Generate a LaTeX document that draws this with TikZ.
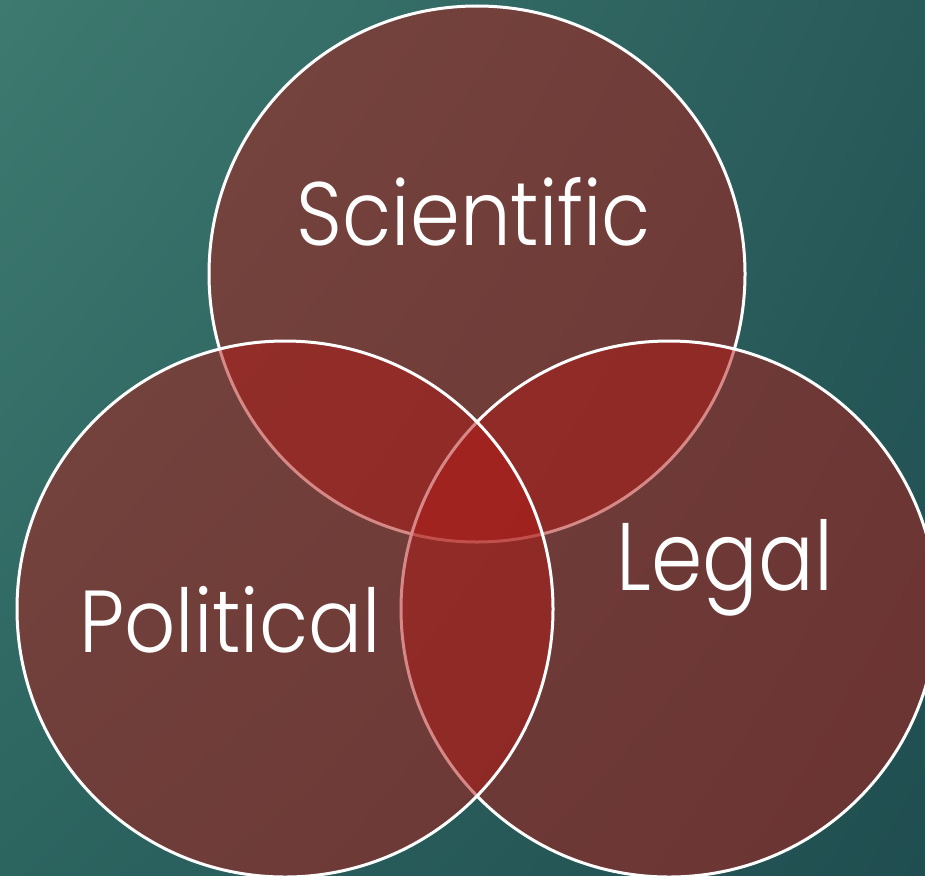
\documentclass[tikz,border=0pt]{standalone}
\usepackage{fontspec}
\setmainfont{Poppins Light}
\usetikzlibrary{shadings}
\definecolor{bgUL}{RGB}{62,122,112}
\definecolor{bgUR}{RGB}{40,90,90}
\definecolor{bgLL}{RGB}{44,100,96}
\definecolor{bgLR}{RGB}{32,78,80}
\definecolor{vennred}{RGB}{175,28,24}
\tikzset{
  venn/.style={circle, draw=white, line width=3pt, fill=vennred, fill opacity=0.52,
    minimum size=536pt, inner sep=0pt},
  lbl/.style={text=white, anchor=base, inner sep=0pt}
}
\newcommand{\lbltext}[3]{\scalebox{#2}[1]{\fontsize{#1}{#1}\selectfont #3}}
\begin{document}
\begin{tikzpicture}[x=1pt,y=-1pt]
\useasboundingbox (0,0) rectangle (925,875);
\shade[upper left=bgUL, upper right=bgUR, lower left=bgLL, lower right=bgLR] (0,0) rectangle (925,875);
\begin{scope}
\clip (0,0) rectangle (925,875);
\node[venn] (sci) at (477,274) {};
\node[venn] (leg) at (669,609) {};
\node[venn] (pol) at (285,609) {};
\end{scope}
\node[lbl] (tsci) at (474,245) {\lbltext{90}{0.89}{Scientific}};
\node[lbl] (tpol) at (230,652) {\lbltext{88}{0.91}{Political}};
\node[lbl] (tleg) at (725,590) {\lbltext{96}{0.86}{Legal}};
\end{tikzpicture}
\end{document}
